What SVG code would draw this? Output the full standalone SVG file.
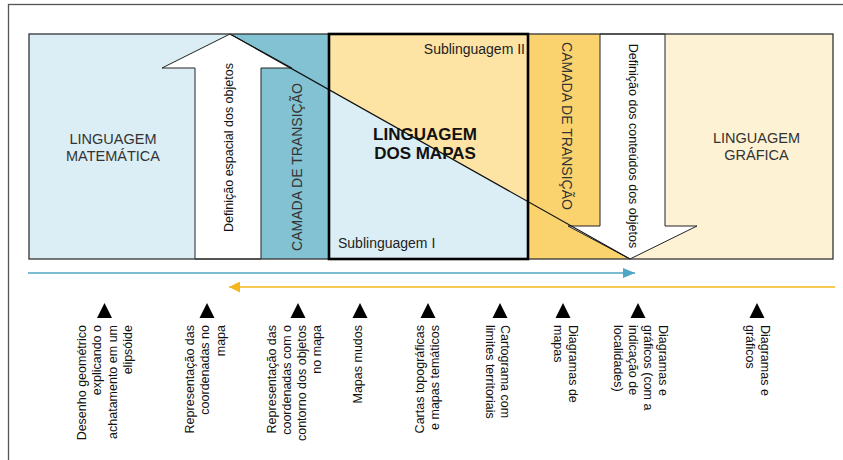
<svg xmlns="http://www.w3.org/2000/svg" width="843" height="460" viewBox="0 0 843 460">
<style>
text{font-family:"Liberation Sans",Arial,sans-serif;fill:#222}
.big{font-size:14.5px;fill:#333;text-anchor:middle}
.bold{font-size:17px;font-weight:bold;fill:#111;text-anchor:middle}
.sub{font-size:14px;fill:#222}
.vt{font-size:12.5px;fill:#111;text-anchor:middle}
.cam{font-size:14px;fill:#333;text-anchor:middle}
.lbl{font-size:12.5px;fill:#111}
.arrow{fill:#fff;stroke:#222;stroke-width:1}
.tri{fill:#000}
</style>
<defs>
<marker id="tealHead" markerWidth="12" markerHeight="10" refX="12" refY="5" orient="auto" markerUnits="userSpaceOnUse">
<path d="M0,0 L12,5 L0,10 Z" fill="#4FA6C4"/>
</marker>
<marker id="yellowHead" markerWidth="11" markerHeight="11" refX="11" refY="5.5" orient="auto" markerUnits="userSpaceOnUse">
<path d="M0,0 L11,5.5 L0,11 Z" fill="#F5B71E"/>
</marker>
</defs>
<rect width="843" height="460" fill="#fff"/>
<rect x="8.5" y="4.5" width="845" height="470" fill="none" stroke="#555" stroke-width="1.3"/>

<g id="ling-matematica">
<rect x="29" y="34" width="804" height="225" fill="#DCEEF5"/>
<text class="big" x="113" y="143.5">LINGUAGEM</text>
<text class="big" x="113" y="160.5">MATEMÁTICA</text>
</g>

<g id="camada-transicao-1">
<rect x="230" y="34" width="99" height="225" fill="#82C2D2"/>
</g>

<g id="ling-grafica">
<rect x="630" y="34" width="203" height="225" fill="#FEF2D4"/>
<text class="big" x="756.5" y="143">LINGUAGEM</text>
<text class="big" x="756.5" y="160">GRÁFICA</text>
</g>

<g id="camada-transicao-2">
<rect x="528" y="34" width="102" height="225" fill="#FAD36F"/>
</g>

<g id="ling-mapas">
<polygon points="329,34 528,34 528,201.6 329,89.7" fill="#FDE4A5"/>
</g>

<g id="def-espacial">
<polygon class="arrow" points="195,259 195,68 162,68 230,34 292,68 261,68 261,259"/>
<text class="vt" transform="translate(233,147.5) rotate(-90)">Definição espacial dos objetos</text>
</g>

<g id="def-conteudos">
<polygon class="arrow" points="600,34 600,226 568,226 630,259 697,226 665,226 665,34"/>
<text class="vt" transform="translate(629,146) rotate(90)">Definição dos conteúdos dos objetos</text>
</g>

<g id="connectors">
<line x1="230" y1="34" x2="630" y2="259" stroke="#111" stroke-width="1.1"/>
<line x1="28" y1="273" x2="635" y2="273" stroke="#4FA6C4" stroke-width="1.6" marker-end="url(#tealHead)"/>
<line x1="835" y1="287" x2="229" y2="287" stroke="#F5B71E" stroke-width="1.6" marker-end="url(#yellowHead)"/>
</g>

<rect x="29" y="34" width="804" height="225" fill="none" stroke="#333" stroke-width="1.3"/>
<rect x="329" y="34" width="199" height="225" fill="none" stroke="#000" stroke-width="2.6"/>

<g id="labels-top">
<text class="cam" transform="translate(302,167) rotate(-90)">CAMADA DE TRANSIÇÃO</text>
<text class="cam" transform="translate(562,126) rotate(90)">CAMADA DE TRANSIÇÃO</text>
<text class="sub" x="525" y="54" text-anchor="end">Sublinguagem II</text>
<text class="sub" x="338" y="248">Sublinguagem I</text>
<text class="bold" x="425" y="140">LINGUAGEM</text>
<text class="bold" x="425" y="159">DOS MAPAS</text>
</g>

<g id="marker-1">
<polygon class="tri" points="104.5,303 97,318 112,318"/>
<text class="lbl" text-anchor="end" transform="translate(86,325) rotate(-90)"><tspan x="0" y="0">Desenho geométrico</tspan><tspan x="0" dy="15.3">explicando o</tspan><tspan x="0" dy="15.3">achatamento em um</tspan><tspan x="0" dy="15.3">elipsóide</tspan></text>
</g>
<g id="marker-2">
<polygon class="tri" points="207,303 199.5,318 214.5,318"/>
<text class="lbl" text-anchor="end" transform="translate(194,325) rotate(-90)"><tspan x="0" y="0">Representação das</tspan><tspan x="0" dy="15.3">coordenadas no</tspan><tspan x="0" dy="15.3">mapa</tspan></text>
</g>
<g id="marker-3">
<polygon class="tri" points="298,303 290.5,318 305.5,318"/>
<text class="lbl" text-anchor="end" transform="translate(276,325) rotate(-90)"><tspan x="0" y="0">Representação das</tspan><tspan x="0" dy="15">coordenadas com o</tspan><tspan x="0" dy="15">contorno dos objetos</tspan><tspan x="0" dy="15">no mapa</tspan></text>
</g>
<g id="marker-4">
<polygon class="tri" points="360,303 352.5,318 367.5,318"/>
<text class="lbl" text-anchor="end" transform="translate(362,325) rotate(-90)">Mapas mudos</text>
</g>
<g id="marker-5">
<polygon class="tri" points="428,303 420.5,318 435.5,318"/>
<text class="lbl" text-anchor="end" transform="translate(424,325) rotate(-90)"><tspan x="0" y="0">Cartas topográficas</tspan><tspan x="0" dy="15">e mapas temáticos</tspan></text>
</g>
<g id="marker-6">
<polygon class="tri" points="500,303 492.5,318 507.5,318"/>
<text class="lbl" transform="translate(501,325) rotate(90)"><tspan x="0" y="0">Cartograma com</tspan><tspan x="0" dy="15">limites territoriais</tspan></text>
</g>
<g id="marker-7">
<polygon class="tri" points="563,303 555.5,318 570.5,318"/>
<text class="lbl" transform="translate(569,325) rotate(90)"><tspan x="0" y="0">Diagramas de</tspan><tspan x="0" dy="15">mapas</tspan></text>
</g>
<g id="marker-8">
<polygon class="tri" points="638,303 630.5,318 645.5,318"/>
<text class="lbl" transform="translate(659,325) rotate(90)"><tspan x="0" y="0">Diagramas e</tspan><tspan x="0" dy="15">gráficos (com a</tspan><tspan x="0" dy="15">indicação de</tspan><tspan x="0" dy="15">localidades)</tspan></text>
</g>
<g id="marker-9">
<polygon class="tri" points="757,303 749.5,318 764.5,318"/>
<text class="lbl" transform="translate(761,325) rotate(90)"><tspan x="0" y="0">Diagramas e</tspan><tspan x="0" dy="15">gráficos</tspan></text>
</g>
</svg>
